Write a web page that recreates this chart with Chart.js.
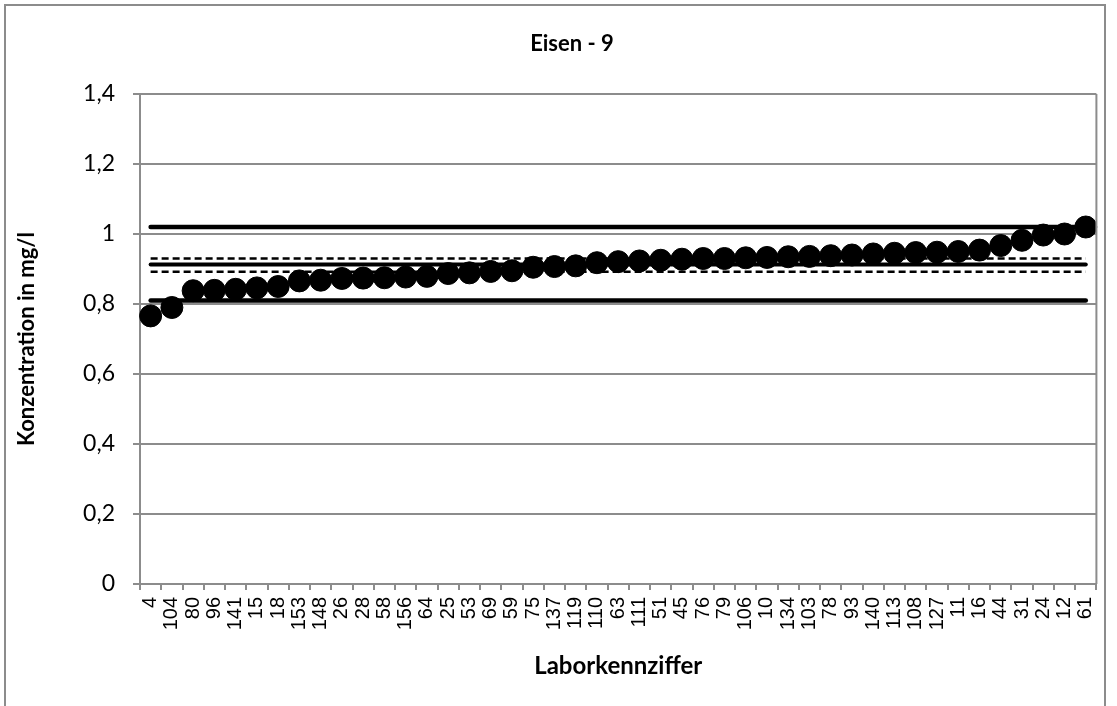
<!DOCTYPE html>
<html lang="de">
  <head>
    <meta charset="UTF-8" />
    <title>Eisen - 9</title>
    <script src="https://cdn.jsdelivr.net/npm/chart.js"></script>
    <style>
      body { margin: 0; background: #fff; }
      #wrap { position: relative; width: 1117px; height: 706px; overflow: hidden; }
      #frame {
        position: absolute; left: 4px; top: 4px; width: 1102px; height: 720px;
        border: 2px solid #8c8c8c; box-sizing: border-box;
      }
      canvas { position: absolute; left: 0; top: 0; }
    </style>
  </head>
  <body>
    <div id="wrap">
      <div id="frame"></div>
      <canvas id="eisenChart" width="1117" height="706"></canvas>
    </div>

    <script>
// Laborkennziffern (sortiert nach Messwert)
var labCodes = ["4", "104", "80", "96", "141", "15", "18", "153", "148", "26", "28", "58", "156", "64", "25",
  "53", "69", "59", "75", "137", "119", "110", "63", "111", "51", "45", "76", "79", "106", "10",
  "134", "103", "78", "93", "140", "113", "108", "127", "11", "16", "44", "31", "24", "12", "61"];

// Konzentration in mg/l
var labValues = [0.766, 0.790, 0.838, 0.839, 0.842, 0.846, 0.850, 0.866, 0.868, 0.873, 0.874, 0.875, 0.877, 0.879, 0.887,
  0.889, 0.893, 0.895, 0.905, 0.907, 0.909, 0.918, 0.921, 0.923, 0.925, 0.928, 0.930, 0.930, 0.932, 0.933,
  0.935, 0.936, 0.938, 0.940, 0.943, 0.945, 0.947, 0.948, 0.950, 0.954, 0.967, 0.982, 0.997, 1.000, 1.020];

// Grenzen / Sollwert
var upperLimit = 1.02;
var lowerLimit = 0.81;
var assignedValue = 0.913;
var upperBand = 0.930;
var lowerBand = 0.892;

var yTickLabels = ["0", "0,2", "0,4", "0,6", "0,8", "1", "1,2", "1,4"];

function flat(v) {
  return labCodes.map(function () { return v; });
}

var gridGray = '#8c8c8c';

// titel + rechter rand
var extras = {
  id: 'extras',
  afterDraw: function (chart) {
    var ctx = chart.ctx;
    var a = chart.chartArea;
    ctx.save();
    ctx.strokeStyle = gridGray;
    ctx.lineWidth = 2;
    ctx.beginPath();
    ctx.moveTo(a.right, a.top);
    ctx.lineTo(a.right, a.bottom);
    ctx.stroke();
    ctx.fillStyle = '#000';
    ctx.font = 'bold 22px Lato';
    ctx.textAlign = 'center';
    ctx.textBaseline = 'middle';
    ctx.fillText('Eisen - 9', 572, 44);
    ctx.restore();
  }
};

function refLine(v, width, dash) {
  return {
    data: flat(v),
    borderColor: '#000',
    borderWidth: width,
    borderDash: dash || [],
    borderCapStyle: dash ? 'butt' : 'round',
    pointRadius: 0,
    fill: false,
    order: 2
  };
}

new Chart("eisenChart", {
  type: 'line',
  data: {
    labels: labCodes,
    datasets: [
      {
        data: labValues,
        showLine: false,
        pointRadius: 11,
        pointBackgroundColor: '#000',
        pointBorderColor: '#000',
        order: 1
      },
      refLine(upperLimit, 4.5),
      refLine(lowerLimit, 4.5),
      refLine(assignedValue, 4),
      refLine(upperBand, 2.5, [7, 4]),
      refLine(lowerBand, 2.5, [7, 4])
    ]
  },
  plugins: [extras],
  options: {
    responsive: false,
    animation: false,
    layout: { padding: { top: 94, right: 20, left: 0, bottom: 0 } },
    plugins: {
      legend: { display: false },
      title: { display: false },
      tooltip: { enabled: false }
    },
    scales: {
      x: {
        offset: true,
        grid: { offset: true, drawOnChartArea: false, drawTicks: true, tickLength: 6, color: gridGray, lineWidth: 2 },
        border: { color: gridGray, width: 2 },
        ticks: {
          autoSkip: false, minRotation: 90, maxRotation: 90, padding: 7,
          color: '#000', font: { family: 'Arial', size: 20 }
        },
        title: {
          display: true, text: 'Laborkennziffer', color: '#000',
          font: { family: 'Lato', size: 24, weight: 'bold' },
          padding: { top: 0, bottom: 25 }
        },
        afterFit: function (s) { s.height = 122; }
      },
      y: {
        min: 0, max: 1.4,
        grid: { color: gridGray, lineWidth: 2, tickLength: 7 },
        border: { color: gridGray, width: 2 },
        ticks: {
          stepSize: 0.2, padding: 18, color: '#000',
          font: { family: 'Lato', size: 23 },
          callback: function (v, i) { return yTickLabels[i]; }
        },
        title: {
          display: true, text: 'Konzentration in mg/l', color: '#000',
          font: { family: 'Lato', size: 22, weight: 'bold' },
          padding: { top: 14, bottom: 0 }
        },
        afterFit: function (s) { s.width = 140; }
      }
    }
  }
});
    </script>
  </body>
</html>
